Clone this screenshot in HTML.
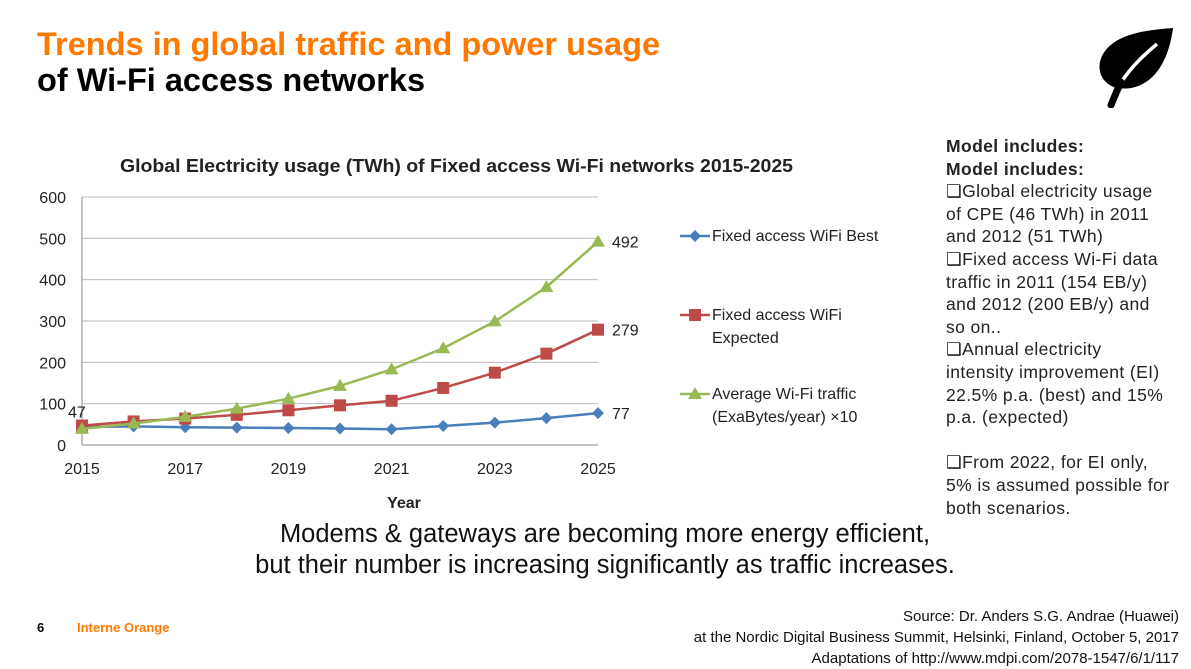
<!DOCTYPE html>
<html><head><meta charset="utf-8"><style>
body{margin:0;width:1191px;height:667px;background:#fff;position:relative;overflow:hidden;font-family:"Liberation Sans",sans-serif}
.a{position:absolute;white-space:nowrap}
#notes{position:absolute;left:946px;top:135px;font-size:17.5px;line-height:22.6px;color:#222;letter-spacing:0.4px}
</style></head><body>
<div class="a" style="left:37px;top:26px;font-size:32.5px;font-weight:bold;color:#ff7900">Trends in global traffic and power usage</div>
<div class="a" style="left:37px;top:62px;font-size:32.5px;font-weight:bold;color:#000">of Wi-Fi access networks</div>
<svg class="a" style="left:1095px;top:26px" width="82" height="82" viewBox="0 0 82 82"><path d="M78 2 C50 4 20 8 8 28 C0 42 6 58 22 62 C48 66 72 48 78 2Z" fill="#000"/><path d="M62 18 C45 32 32 46 24 60" stroke="#fff" stroke-width="3.5" fill="none"/><path d="M26 56 C22 64 19 72 16 79" stroke="#000" stroke-width="7" stroke-linecap="round" fill="none"/></svg>
<svg id="chart" class="a" style="left:0;top:0" width="940" height="520"></svg>
<div id="notes"><b>Model includes:<br>Model includes:</b><br>❑Global electricity usage<br>of CPE (46 TWh) in 2011<br>and 2012 (51 TWh)<br>❑Fixed access Wi-Fi data<br>traffic in 2011 (154 EB/y)<br>and 2012 (200 EB/y) and<br>so on..<br>❑Annual electricity<br>intensity improvement (EI)<br>22.5% p.a. (best) and 15%<br>p.a. (expected)<br><br>❑From 2022, for EI only,<br>5% is assumed possible for<br>both scenarios.</div>
<div class="a" style="left:0;width:1210px;top:519px;text-align:center;font-size:25.5px;line-height:31px;color:#111">Modems &amp; gateways are becoming more energy efficient,<br>but their number is increasing significantly as traffic increases.</div>
<div class="a" style="left:37px;top:620px;font-size:13px;font-weight:bold">6</div>
<div class="a" style="left:77px;top:620px;font-size:13px;font-weight:bold;color:#ff7900">Interne Orange</div>
<div class="a" style="right:12px;top:606px;font-size:15px;line-height:21px;text-align:right;color:#111">Source: Dr. Anders S.G. Andrae (Huawei)<br>at the Nordic Digital Business Summit, Helsinki, Finland, October 5, 2017<br>Adaptations of http://www.mdpi.com/2078-1547/6/1/117</div>
<script>
const years=[2015,2016,2017,2018,2019,2020,2021,2022,2023,2024,2025];
const best=[44,45,43,42,41,40,38,46,54,65,77];
const expected=[47,57,64,73,84,96,107,138,175,221,279];
const traffic=[39,52,68,88,112,143,183,234,299,382,492];
const yTicks=[0,100,200,300,400,500,600];
const xTicks=[2015,2017,2019,2021,2023,2025];
const NS="http://www.w3.org/2000/svg",svg=document.getElementById('chart');
const X=v=>82+(v-2015)*51.6, Y=v=>445-v*0.4133;
function el(t,a,txt){const e=document.createElementNS(NS,t);for(const k in a)e.setAttribute(k,a[k]);if(txt!=null)e.textContent=txt;svg.appendChild(e);return e;}
const F='"Liberation Sans",sans-serif';
let t=el('text',{x:120,y:172,'font-size':18,'font-weight':'bold','font-family':F,fill:'#222',textLength:673,lengthAdjust:'spacingAndGlyphs'},'Global Electricity usage  (TWh) of Fixed access Wi-Fi networks 2015-2025');


yTicks.forEach(v=>{
 const g=el('line',{x1:82,x2:598,y1:Y(v),y2:Y(v),stroke:v?'#bbb':'#888','stroke-width':1});
 
 
 const l=el('text',{x:66,y:Y(v)+6,'text-anchor':'end','font-size':16,'font-family':F,fill:'#222'},v);
 
 
});
el('line',{x1:82,x2:82,y1:Y(600),y2:Y(0),stroke:'#888'});
xTicks.forEach(v=>{
 const l=el('text',{x:X(v),y:474,'text-anchor':'middle','font-size':16,'font-family':F,fill:'#222'},v);
 
 
});
t=el('text',{x:404,y:508,'text-anchor':'middle','font-size':16,'font-weight':'bold','font-family':F,fill:'#222'},'Year');


function marker(type,x,y,c){
 if(type==='d')return el('path',{d:`M${x} ${y-6}L${x+6} ${y}L${x} ${y+6}L${x-6} ${y}Z`,fill:c});
 if(type==='s')return el('rect',{x:x-6,y:y-6,width:12,height:12,fill:c});
 return el('path',{d:`M${x} ${y-7}L${x+7} ${y+5}L${x-7} ${y+5}Z`,fill:c});
}
const series=[[best,'#4a7ebb','d','best'],[expected,'#be4b48','s','expected'],[traffic,'#98b954','t','traffic']];
series.forEach(([d,c,m,n])=>{
 const p=el('polyline',{points:d.map((v,i)=>X(years[i])+','+Y(v)).join(' '),fill:'none',stroke:c,'stroke-width':2.5});
 
 
 d.forEach((v,i)=>{const k=marker(m,X(years[i]),Y(v),c);
 
 });
});
[[traffic[10],'492'],[expected[10],'279'],[best[10],'77']].forEach(([v,s])=>{
 const l=el('text',{x:612,y:Y(v)+6,'font-size':16,'font-family':F,fill:'#222'},s);
 
 
});
t=el('text',{x:68,y:Y(expected[0])-8,'font-size':16,'font-family':F,fill:'#222'},'47');


const legend=[['d','#4a7ebb',['Fixed access WiFi Best'],236],['s','#be4b48',['Fixed access WiFi','Expected'],315],['t','#98b954',['Average Wi-Fi traffic','(ExaBytes/year) ×10'],394]];
legend.forEach(([m,c,lines,y])=>{
 const ln=el('line',{x1:680,x2:710,y1:y,y2:y,stroke:c,'stroke-width':2.5});
 
 
 marker(m,695,y,c);
 lines.forEach((s,i)=>el('text',{x:712,y:y+5+i*23,'font-size':16,'font-family':F,fill:'#222'},s));
});
</script>
</body></html>
